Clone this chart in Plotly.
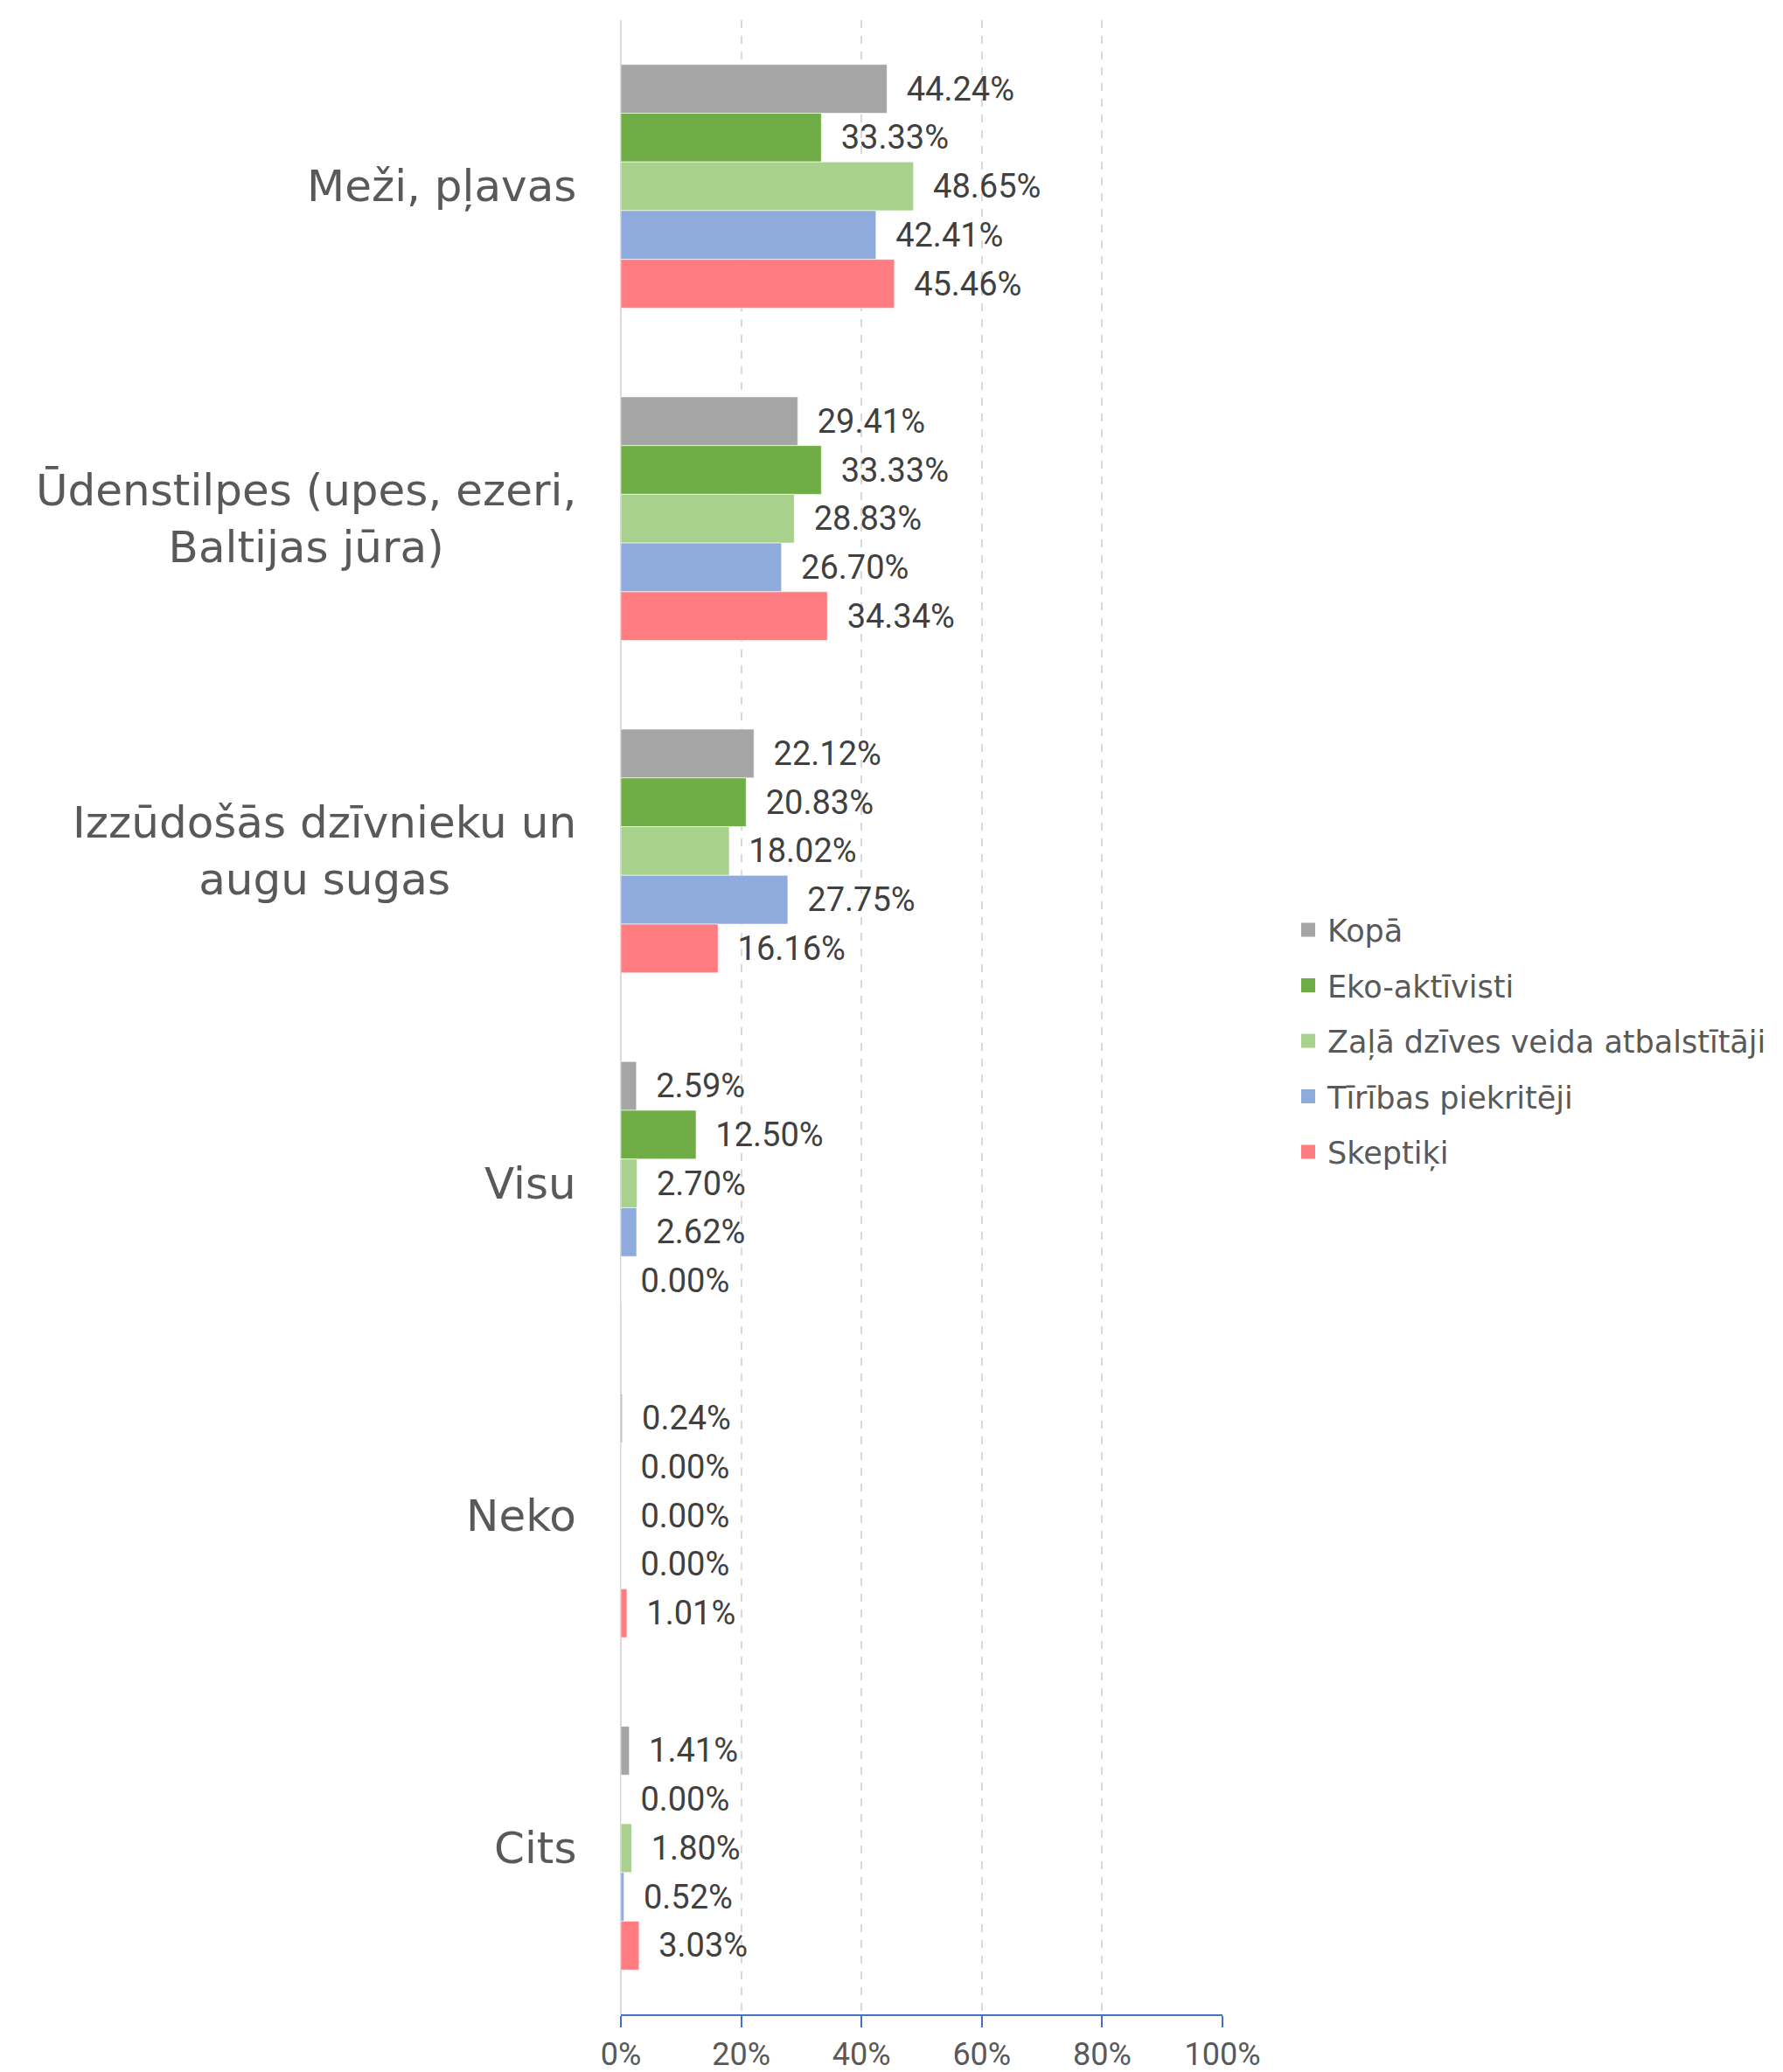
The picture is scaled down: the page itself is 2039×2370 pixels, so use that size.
import plotly.graph_objects as go

categories = [
    "Meži, pļavas",
    "Ūdenstilpes (upes, ezeri,<br>Baltijas jūra)",
    "Izzūdošās dzīvnieku un<br>augu sugas",
    "Visu",
    "Neko",
    "Cits",
]
series_names = ["Kopā", "Eko-aktīvisti", "Zaļā dzīves veida atbalstītāji", "Tīrības piekritēji", "Skeptiķi"]
kopa = [44.24, 29.41, 22.12, 2.59, 0.24, 1.41]
eko = [33.33, 33.33, 20.83, 12.50, 0.00, 0.00]
zala = [48.65, 28.83, 18.02, 2.70, 0.00, 1.80]
tiribas = [42.41, 26.70, 27.75, 2.62, 0.00, 0.52]
skeptiki = [45.46, 34.34, 16.16, 0.00, 1.01, 3.03]
colors = ["#A5A5A5", "#70AD47", "#A9D18E", "#8FAADC", "#FF7C80"]

# page has an 8px body margin, so keep the figure inside the window
W, H = 2031, 2362
L, T = 702, 15
plot_w, plot_h = 688, 2281
R = W - L - plot_w
B = H - T - plot_h

fig = go.Figure()
for name, vals, col in zip(series_names, [kopa, eko, zala, tiribas, skeptiki], colors):
    fig.add_trace(go.Bar(
        y=list(range(len(categories))),
        x=[v / 100 for v in vals],
        orientation="h",
        name=name,
        showlegend=False,
        marker=dict(color=col, line=dict(color="rgba(255,255,255,0.6)", width=1)),
        texttemplate="\u2002%{x:.2%}",
        textposition="outside",
        cliponaxis=False,
        textfont=dict(family="Liberation Sans Narrow, Roboto", size=38, color="#404040"),
    ))

# legend entries with bigger square swatches
for name, col in zip(series_names, colors):
    fig.add_trace(go.Scatter(
        x=[None], y=[None], mode="markers", name=name, legendgroup=name,
        marker=dict(symbol="square", size=20, color=col),
    ))

# category labels, centred multi-line like the original
for i, cat in enumerate(categories):
    fig.add_annotation(
        x=(653 - L) / plot_w, xref="paper", xanchor="right",
        y=i, yref="y", yanchor="middle",
        text=cat, showarrow=False, align="center",
        font=dict(family="DejaVu Sans", size=50, color="#595959"),
    )

fig.update_layout(
    width=W, height=H,
    margin=dict(l=L, r=R, t=T, b=B),
    paper_bgcolor="white", plot_bgcolor="white",
    barmode="group", bargap=0.267, bargroupgap=0,
    showlegend=True,
    legend=dict(
        x=(1466 - L) / plot_w, xanchor="left",
        y=0.488, yanchor="middle",
        font=dict(family="DejaVu Sans", size=35, color="#595959"),
        tracegroupgap=15, itemwidth=34,
        bgcolor="rgba(0,0,0,0)",
    ),
    xaxis=dict(
        range=[0, 1], dtick=0.2, tickformat=".0%", automargin=False,
        showgrid=True, gridcolor="#D9D9D9", griddash="dash", gridwidth=2,
        zeroline=True, zerolinecolor="#D9D9D9", zerolinewidth=2,
        showline=True, linecolor="#4472C4", linewidth=2,
        ticks="outside", tickcolor="#4472C4", tickwidth=2, ticklen=13,
        tickfont=dict(family="Liberation Sans Narrow, Roboto", size=36, color="#595959"),
    ),
    yaxis=dict(
        showticklabels=False, showgrid=False, automargin=False,
        zeroline=False, showline=False, range=[5.5, -0.5],
    ),
)

fig.write_html("out.html")
